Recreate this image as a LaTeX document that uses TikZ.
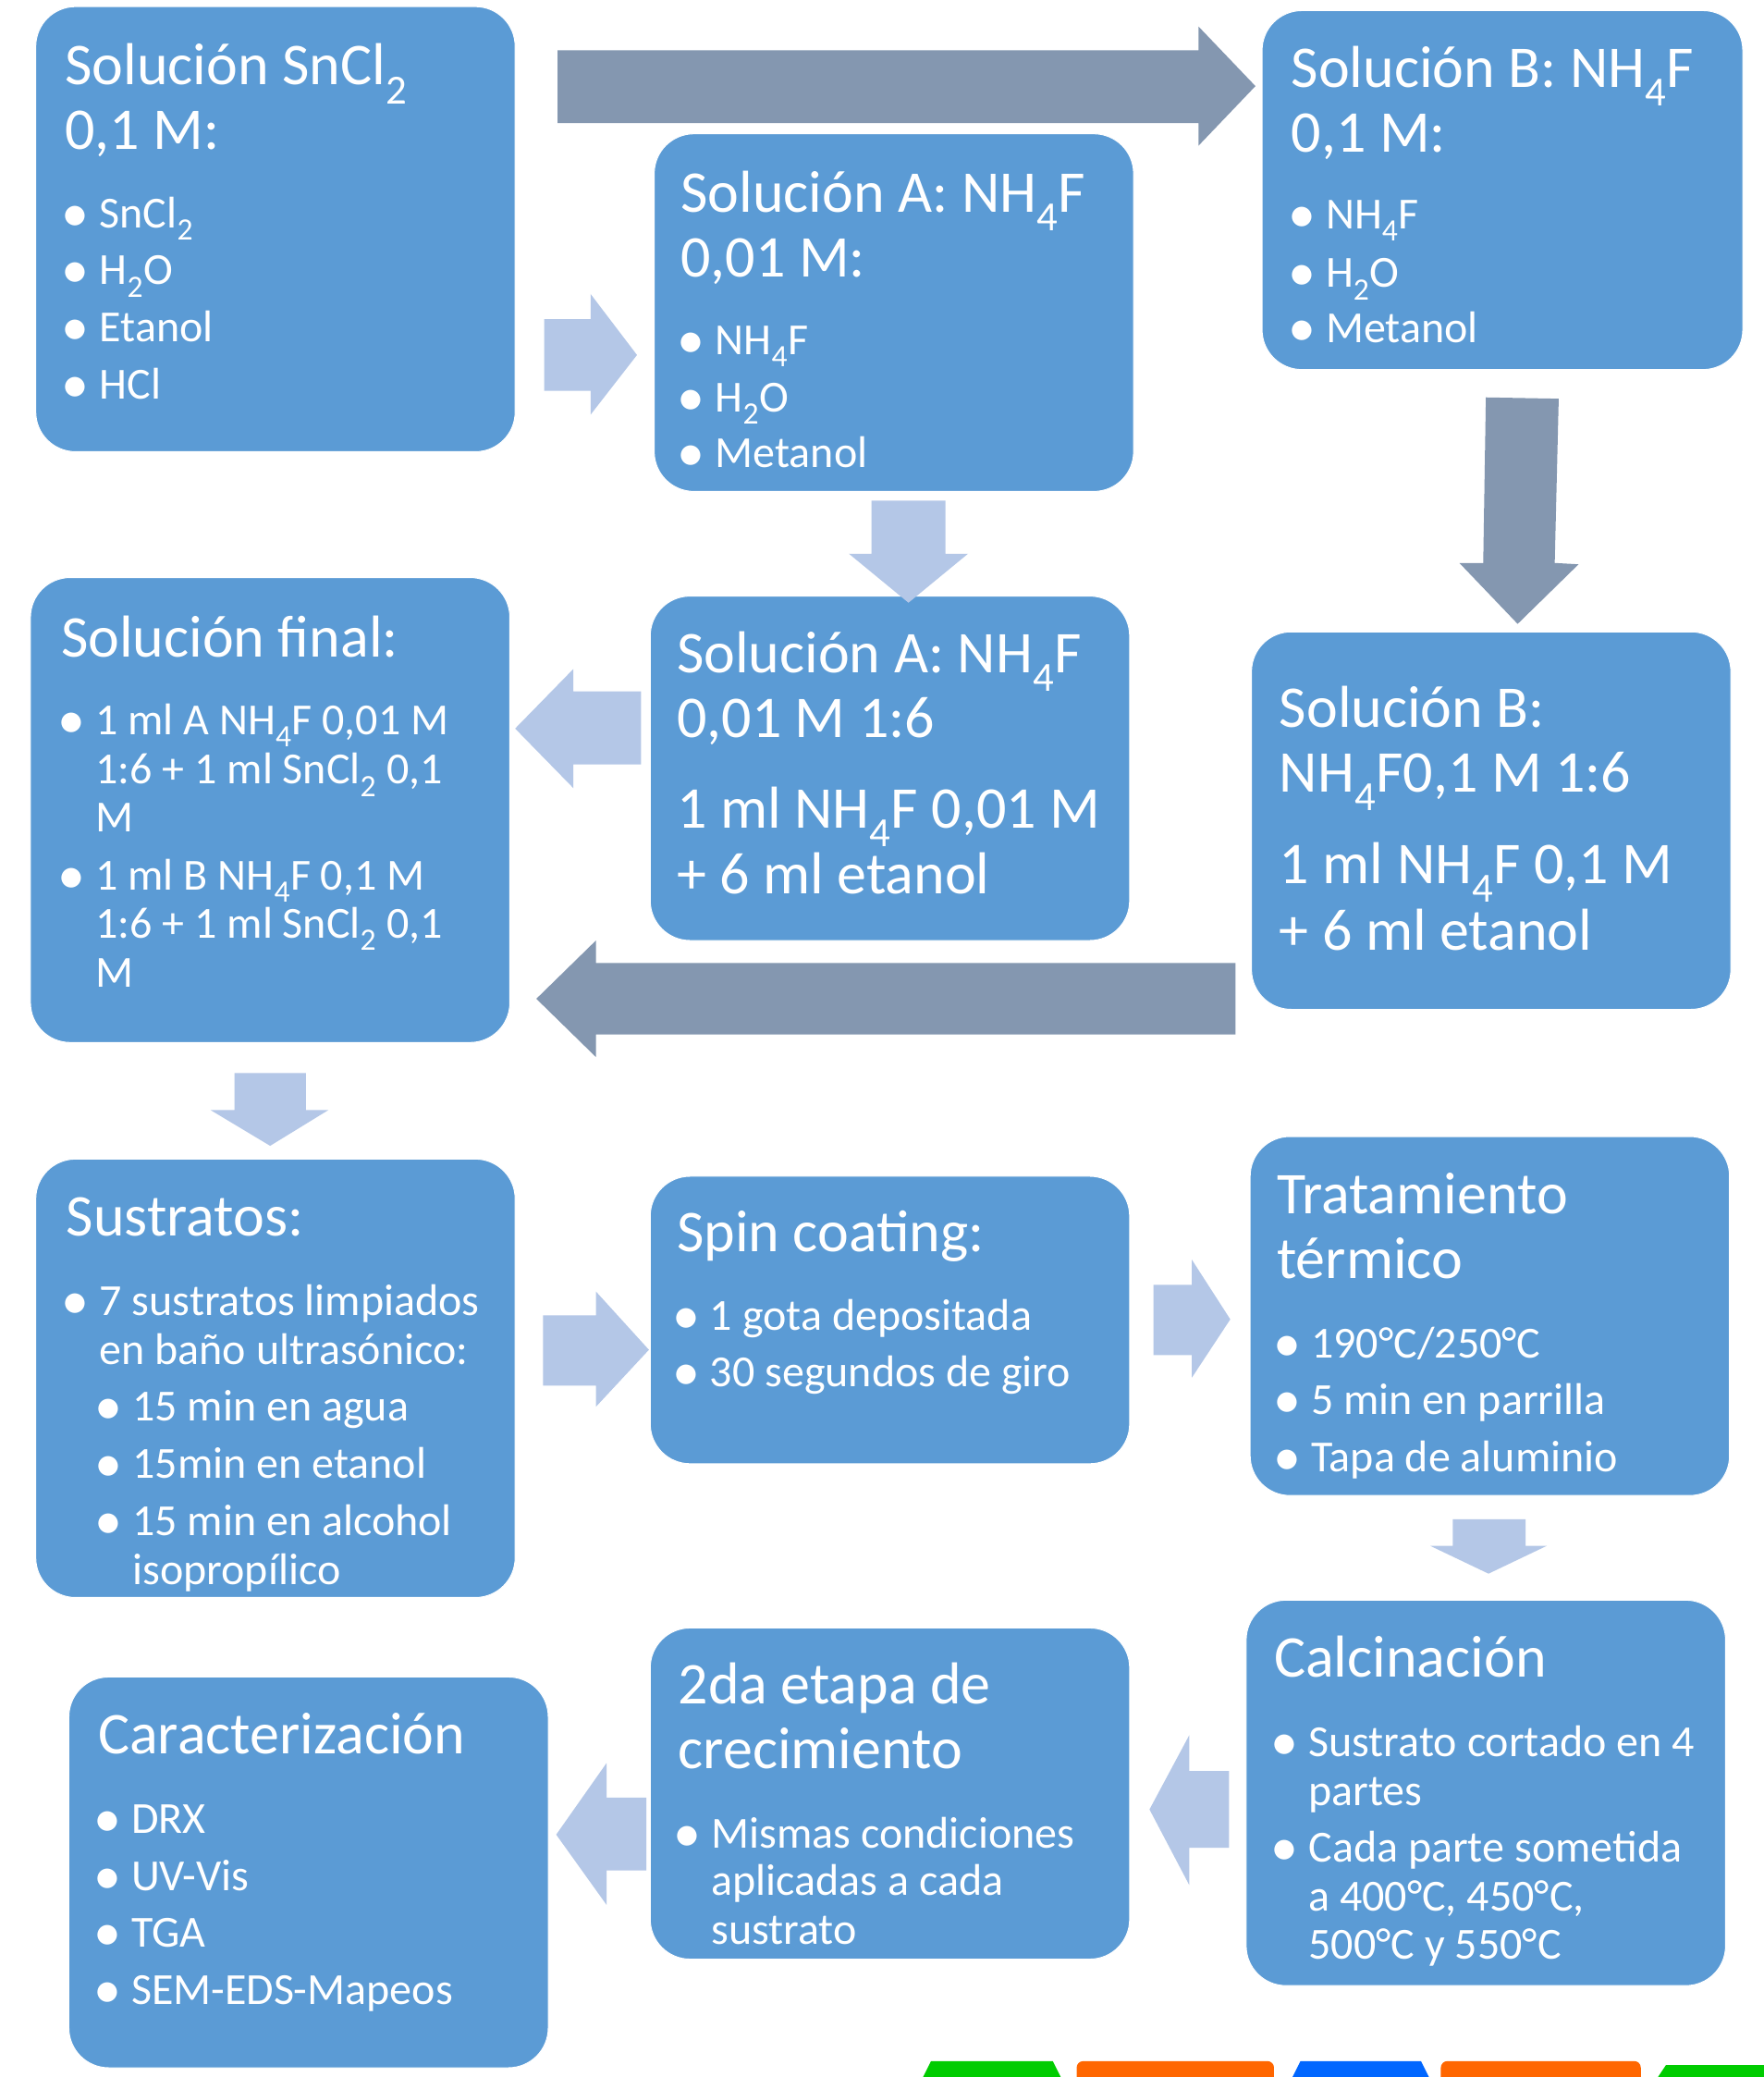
\documentclass[tikz,border=0pt]{standalone}
\usepackage{fontspec}
\setmainfont{Carlito}
\usetikzlibrary{fit}
\definecolor{boxblue}{HTML}{5B9BD5}
\definecolor{darkarr}{HTML}{8497B0}
\definecolor{lightarr}{HTML}{B4C7E7}
\definecolor{stripgreen}{HTML}{00CC00}
\definecolor{striporange}{HTML}{FF6600}
\definecolor{stripblue}{HTML}{0066FF}
\newcommand\ssub[1]{\smash{\textsubscript{#1}}}
\newcount\tcnt
\newcommand\tline[4]{\global\advance\tcnt by 1 \node[#1,anchor=base west] (t\the\tcnt) at (#2,#3) {#4};}
\newcommand\bitem[4]{\global\advance\tcnt by 1 \node[bul,anchor=base,xshift=-25.8pt,yshift=-4pt] (d\the\tcnt) at (#2,#3) {•}; \node[itm,anchor=base west] (t\the\tcnt) at (#2,#3) {#4};}
\begin{document}
\begin{tikzpicture}[x=1.4324pt,y=-1.4324pt,
 box/.style={fill=boxblue, draw=white, line width=1pt, rounded corners=43pt, inner sep=0pt},
 ttl/.style={text=white, font=\fontsize{64}{70}\selectfont, inner sep=0pt},
 itm/.style={text=white, font=\fontsize{48}{53}\selectfont, inner sep=0pt},
 bul/.style={text=white, font=\fontsize{60}{60}\selectfont, inner sep=0pt},
 darrow/.style={fill=darkarr},
 larrow/.style={fill=lightarr}]
\fill[white] (0,0) rectangle (1332,1568);
\useasboundingbox (0,0) rectangle (1332,1568);

% boxes
\node[box, fit={(27,5) (389,341)}] (b1) {};
\node[box, fit={(953,8) (1316,279)}] (bB1) {};
\node[box, fit={(494,101) (856,371)}] (bA1) {};
\node[box, fit={(491,450) (853,710)}] (bA2) {};
\node[box, fit={(945,477) (1307,762)}] (bB2) {};
\node[box, fit={(23,436) (385,787)}] (bfin) {};
\node[box, fit={(27,875) (389,1206)}] (bsus) {};
\node[box, fit={(491,888) (853,1105)}] (bspin) {};
\node[box, fit={(944,858) (1306,1129)}] (btrat) {};
\node[box, fit={(941,1208) (1303,1499)}] (bcalc) {};
\node[box, fit={(491,1229) (853,1479)}] (betapa) {};
\node[box, fit={(52,1266) (414,1561)}] (bcar) {};

% dark arrows
\fill[darrow] (421,38) -- (905,38) -- (905,20) -- (948,65) -- (905,110) -- (905,93) -- (421,93) -- cycle;
\fill[darrow] (1122,300) -- (1177,301) -- (1174,425) -- (1192,426) -- (1146,471) -- (1102,425) -- (1120,425) -- cycle;
\fill[darrow] (933,727) -- (450,727) -- (450,710) -- (405,754) -- (450,798) -- (450,781) -- (933,781) -- cycle;

% light arrows
\fill[larrow] (411,241) -- (446,241) -- (446,222) -- (481,268) -- (446,313) -- (446,295) -- (411,295) -- cycle;
\fill[larrow] (658,378) -- (714,378) -- (714,418) -- (731,418) -- (686,455) -- (641,418) -- (658,418) -- cycle;
\fill[larrow] (484,522) -- (433,522) -- (433,505) -- (389,550) -- (433,595) -- (433,577) -- (484,577) -- cycle;
\fill[larrow] (177,810) -- (231,810) -- (231,838) -- (248,838) -- (204,865) -- (159,838) -- (177,838) -- cycle;
\fill[larrow] (410,993) -- (450,993) -- (450,975) -- (490,1019) -- (450,1062) -- (450,1046) -- (410,1046) -- cycle;
\fill[larrow] (871,970) -- (900,970) -- (900,951) -- (929,996) -- (900,1040) -- (900,1023) -- (871,1023) -- cycle;
\fill[larrow] (1097,1147) -- (1152,1147) -- (1152,1167) -- (1168,1167) -- (1124,1188) -- (1080,1167) -- (1097,1167) -- cycle;
\fill[larrow] (928,1337) -- (898,1337) -- (898,1310) -- (868,1366) -- (898,1423) -- (898,1395) -- (928,1395) -- cycle;
\fill[larrow] (488,1357) -- (458,1357) -- (458,1331) -- (420,1385) -- (458,1438) -- (458,1412) -- (488,1412) -- cycle;

% box 1
\tline{ttl}{49}{64}{Solución SnCl\ssub{2}}
\tline{ttl}{49}{113}{0,1 M:}
\bitem{54}{75}{172}{SnCl\ssub{2}}
\bitem{54}{75}{215}{H\ssub{2}O}
\bitem{54}{75}{258}{Etanol}
\bitem{54}{75}{301}{HCl}

% box B1
\tline{ttl}{975}{66}{Solución B: NH\ssub{4}F}
\tline{ttl}{975}{115}{0,1 M:}
\bitem{980}{1001}{173}{NH\ssub{4}F}
\bitem{980}{1001}{217}{H\ssub{2}O}
\bitem{980}{1001}{259}{Metanol}

% box A1
\tline{ttl}{514}{160}{Solución A: NH\ssub{4}F}
\tline{ttl}{514}{209}{0,01 M:}
\bitem{519}{540}{268}{NH\ssub{4}F}
\bitem{519}{540}{311}{H\ssub{2}O}
\bitem{519}{540}{353}{Metanol}

% box A2
\tline{ttl}{511}{508}{Solución A: NH\ssub{4}F}
\tline{ttl}{511}{557}{0,01 M 1:6}
\tline{ttl}{511}{625}{1 ml NH\ssub{4}F 0,01 M}
\tline{ttl}{511}{675}{+ 6 ml etanol}

% box B2
\tline{ttl}{966}{549}{Solución B:}
\tline{ttl}{966}{598}{NH\ssub{4}F0,1 M 1:6}
\tline{ttl}{966}{667}{1 ml NH\ssub{4}F 0,1 M}
\tline{ttl}{966}{717}{+ 6 ml etanol}

% final
\tline{ttl}{46}{496}{Solución final:}
\bitem{51}{72}{555}{1 ml A NH\ssub{4}F 0,01 M}
\tline{itm}{72}{592}{1:6 + 1 ml SnCl\ssub{2} 0,1}
\tline{itm}{72}{628}{M}
\bitem{51}{72}{672}{1 ml B NH\ssub{4}F 0,1 M}
\tline{itm}{72}{708}{1:6 + 1 ml SnCl\ssub{2} 0,1}
\tline{itm}{72}{745}{M}

% sustratos
\tline{ttl}{50}{933}{Sustratos:}
\bitem{54}{75}{993}{7 sustratos limpiados}
\tline{itm}{75}{1030}{en baño ultrasónico:}
\bitem{79}{100}{1073}{15 min en agua}
\bitem{79}{100}{1116}{15min en etanol}
\bitem{79}{100}{1159}{15 min en alcohol}
\tline{itm}{100}{1196}{isopropílico}

% spin
\tline{ttl}{511}{945}{Spin coating:}
\bitem{515}{536}{1004}{1 gota depositada}
\bitem{515}{536}{1047}{30 segundos de giro}

% tratamiento
\tline{ttl}{964}{916}{Tratamiento}
\tline{ttl}{964}{965}{térmico}
\bitem{969}{990}{1025}{190°C/250°C}
\bitem{969}{990}{1068}{5 min en parrilla}
\bitem{969}{990}{1111}{Tapa de aluminio}

% calcinacion
\tline{ttl}{962}{1266}{Calcinación}
\bitem{967}{988}{1326}{Sustrato cortado en 4}
\tline{itm}{988}{1363}{partes}
\bitem{967}{988}{1406}{Cada parte sometida}
\tline{itm}{988}{1443}{a 400°C, 450°C,}
\tline{itm}{988}{1479}{500°C y 550°C}

% 2da etapa
\tline{ttl}{512}{1286}{2da etapa de}
\tline{ttl}{512}{1335}{crecimiento}
\bitem{516}{537}{1395}{Mismas condiciones}
\tline{itm}{537}{1431}{aplicadas a cada}
\tline{itm}{537}{1468}{sustrato}

% caracterizacion
\tline{ttl}{74}{1324}{Caracterización}
\bitem{78}{99}{1384}{DRX}
\bitem{78}{99}{1427}{UV-Vis}
\bitem{78}{99}{1470}{TGA}
\bitem{78}{99}{1513}{SEM-EDS-Mapeos}

% bottom strip
\fill[stripgreen] (697,1568) -- (703,1556) -- (795,1556) -- (801,1568) -- cycle;
\fill[striporange, rounded corners=7pt] (813,1575) -- (813,1556) -- (962,1556) -- (962,1575) -- cycle;
\fill[stripblue] (976,1568) -- (982,1556) -- (1073,1556) -- (1079,1568) -- cycle;
\fill[striporange, rounded corners=7pt] (1088,1575) -- (1088,1556) -- (1239,1556) -- (1239,1575) -- cycle;
\fill[stripgreen] (1252,1568) -- (1258,1559) -- (1340,1559) -- (1340,1568) -- cycle;
\end{tikzpicture}
\end{document}
